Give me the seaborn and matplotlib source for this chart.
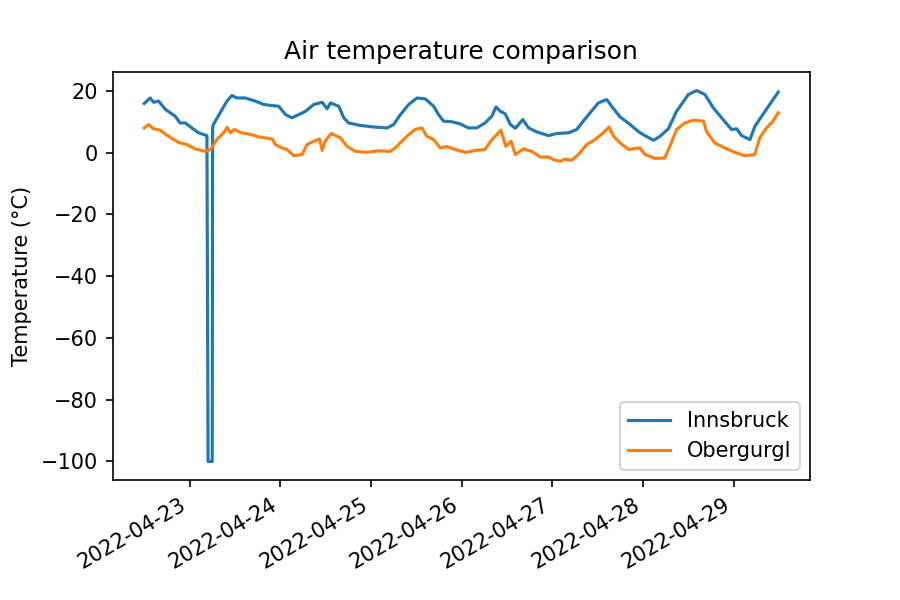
import numpy as np
import pandas as pd
import matplotlib
matplotlib.use("Agg")
import matplotlib.pyplot as plt
import seaborn as sns

start = pd.Timestamp("2022-04-22 12:00")

# Innsbruck: hours since start, temperature (°C)
ibk_hours = [0, 1.6, 2.5, 3.8, 5.6, 8.2, 9.5, 10.9, 12.6, 14.4, 16.6, 16.9, 18.0, 18.1,
             18.3, 20.1, 21.9, 23.2, 24.5, 26.7, 29.4, 31.6, 33.4, 35.6, 37.4, 39.1,
             40.9, 42.7, 44.9, 47.1, 48.4, 49.3, 51.5, 52.8, 54.1, 57.2, 60.7, 64.3,
             66.0, 67.8, 70.0, 72.2, 74.4, 76.6, 77.9, 79.2, 81.4, 83.6, 85.8, 88.0,
             90.2, 92.0, 93.1, 94.2, 95.5, 96.9, 98.2, 100.2, 101.7, 103.9, 107.0,
             109.2, 112.3, 114.5, 115.8, 118.0, 120.2, 122.4, 123.7, 125.9, 128.6,
             130.8, 132.5, 134.8, 136.5, 138.7, 140.9, 144.0, 146.2, 148.4, 150.6,
             153.2, 155.4, 156.8, 158.1, 160.3, 161.6, 164.3, 167.8]
ibk_temp = [15.9, 17.7, 16.3, 16.7, 14.0, 11.8, 9.6, 9.6, 8.0, 6.4, 5.5, -100, -100, 8.0,
            9.1, 12.9, 16.7, 18.5, 17.7, 17.7, 16.7, 15.6, 15.3, 15.0, 12.3, 11.3,
            12.3, 13.4, 15.6, 16.3, 14.2, 16.1, 15.0, 11.3, 9.6, 8.8, 8.3, 8.0,
            9.1, 12.3, 15.6, 17.7, 17.4, 15.0, 12.3, 10.2, 10.0, 9.3, 8.0, 8.0,
            9.6, 11.8, 14.8, 13.4, 12.6, 9.1, 7.9, 10.7, 8.0, 6.7, 5.5,
            6.2, 6.4, 7.5, 9.6, 12.9, 16.1, 17.2, 15.0, 11.6, 9.1,
            6.8, 5.5, 4.0, 5.3, 7.7, 13.4, 18.8, 20.1, 18.8, 14.5,
            10.7, 7.5, 7.7, 5.5, 4.2, 8.5, 13.4, 19.6]

# Obergurgl: hours since start, temperature (°C)
obg_hours = [0, 1.2, 2.5, 4.2, 6.4, 9.1, 11.3, 13.5, 16.2, 17.5, 19.2, 21.0, 22.0, 22.8,
             23.8, 25.8, 28.5, 30.2, 32.9, 33.9, 34.7, 36.5, 37.8, 39.6, 41.8, 43.1,
             44.9, 46.4, 47.1, 47.9, 49.5, 51.9, 53.7, 55.9, 59.0, 62.0, 65.1, 66.4,
             68.2, 70.0, 71.7, 73.5, 74.8, 76.6, 78.4, 80.1, 82.3, 85.0, 87.6, 90.2,
             92.0, 93.3, 94.4, 95.7, 97.1, 98.2, 100.4, 102.6, 104.8, 107.0, 108.3,
             110.1, 111.4, 113.1, 114.9, 117.1, 119.3, 121.5, 123.0, 124.2, 126.0,
             128.2, 130.8, 131.2, 132.5, 135.2, 137.8, 139.1, 140.9, 143.1, 145.3,
             148.0, 148.8, 151.0, 153.7, 156.3, 158.9, 161.6, 162.9, 164.7, 166.4,
             167.8]
obg_temp = [8.0, 9.1, 7.7, 7.3, 5.3, 3.3, 2.6, 1.2, 0.4, 1.0, 4.2, 6.4, 8.2, 6.4,
            7.5, 6.4, 5.8, 5.1, 4.6, 4.4, 2.6, 1.5, 1.0, -1.0, -0.6, 2.6,
            3.7, 4.4, 0.7, 3.7, 6.2, 4.8, 2.0, 0.4, 0.1, 0.6, 0.4, 1.5,
            3.7, 5.8, 7.5, 8.0, 5.3, 4.2, 1.5, 2.0, 1.0, 0.1, 0.7, 1.0,
            4.2, 5.8, 7.3, 2.0, 3.7, -0.6, 1.2, 0.4, -1.4, -1.4, -2.3,
            -2.8, -2.1, -2.5, -0.6, 2.6, 4.2, 6.4, 8.3, 5.3, 3.1,
            1.0, 1.5, 1.5, -0.6, -1.9, -1.7, 2.0, 7.5, 9.6, 10.5,
            10.2, 6.9, 3.1, 1.5, 0.1, -1.0, -0.6, 4.8, 8.0, 10.2,
            12.9]

df_ibk = pd.DataFrame({"time": start + pd.to_timedelta(ibk_hours, unit="h"),
                       "temp": ibk_temp, "station": "Innsbruck"})
df_obg = pd.DataFrame({"time": start + pd.to_timedelta(obg_hours, unit="h"),
                       "temp": obg_temp, "station": "Obergurgl"})
df = pd.concat([df_ibk, df_obg], ignore_index=True)

fig, ax = plt.subplots(figsize=(6, 4), dpi=150)
sns.lineplot(data=df, x="time", y="temp", hue="station", ax=ax,
             palette=["#1f77b4", "#ff7f0e"], linewidth=1.5, estimator=None)
ax.set_title("Air temperature comparison")
ax.set_ylabel("Temperature (°C)")
ax.set_xlabel("")
ax.legend(loc="lower right")
fig.autofmt_xdate()
fig.savefig("out.png", dpi=150)
